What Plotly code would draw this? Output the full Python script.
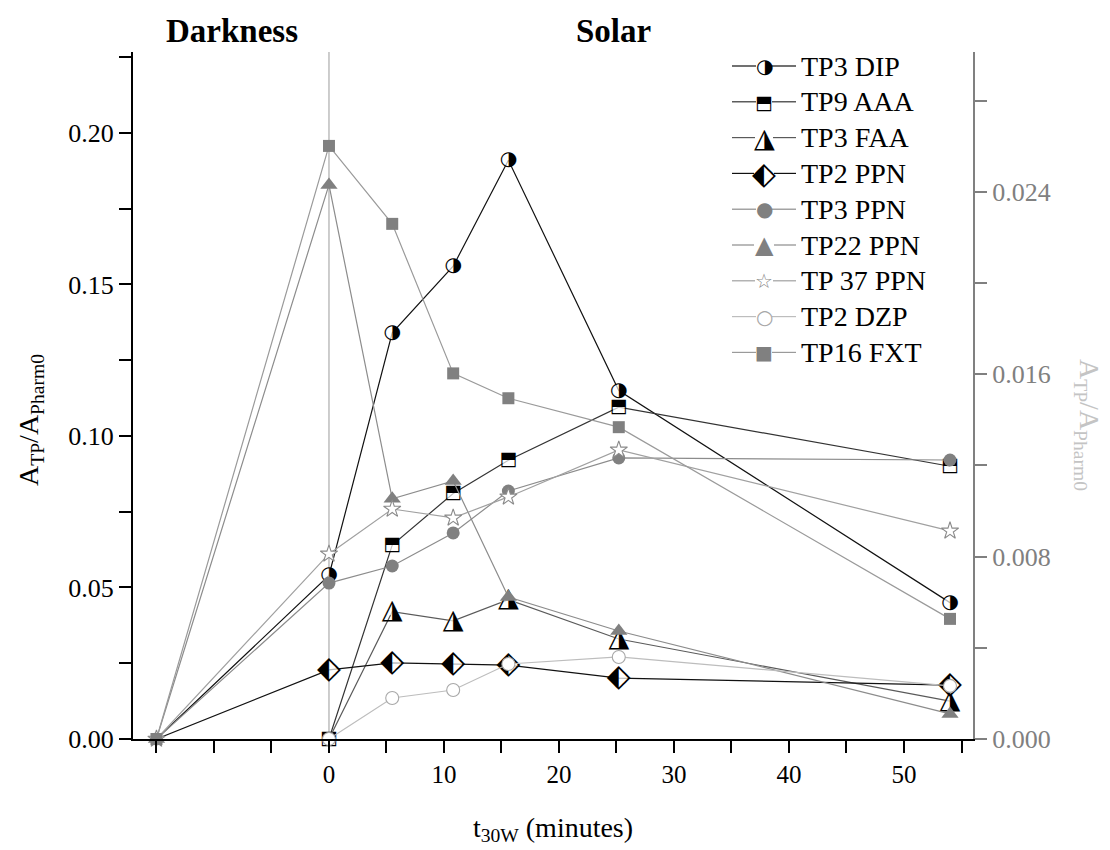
import plotly.graph_objects as go

SERIF = "Liberation Serif"
GLYPH_FONT = "DejaVu Sans"

# Sampling times in minutes (-15 is the darkness reference sample)
t_full = [-15, 0, 5.5, 10.8, 15.6, 25.2, 54]
t_solar = [0, 5.5, 10.8, 15.6, 25.2, 54]

# Left axis: A_TP / A_Pharm0
tp3_dip = [0, 0.054, 0.134, 0.156, 0.191, 0.115, 0.045]
tp9_aaa = [0, 0.064, 0.081, 0.092, 0.1095, 0.090]
tp3_faa = [0, 0.042, 0.039, 0.046, 0.033, 0.0125]
tp2_ppn = [0, 0.0228, 0.0251, 0.0248, 0.0244, 0.0201, 0.0178]

# Right axis: A_TP / A_Pharm0
tp3_ppn = [0, 0.00684, 0.00759, 0.00904, 0.01088, 0.01233, 0.01224]
tp22_ppn = [0, 0.02431, 0.01054, 0.01132, 0.00623, 0.00474, 0.0011]
tp37_ppn = [0, 0.00812, 0.01009, 0.0097, 0.01062, 0.01268, 0.00913]
tp2_dzp = [0, 0.0018, 0.00215, 0.00329, 0.0036, 0.00233]
tp16_fxt = [0, 0.02602, 0.0226, 0.01604, 0.01495, 0.01368, 0.00527]

x_tickvals = [-15, -10, -5, 0, 5, 10, 15, 20, 25, 30, 35, 40, 45, 50, 55]
x_ticktext = ["", "", "", "0", "", "10", "", "20", "", "30", "", "40", "", "50", ""]
y_left_ticks = [0, 0.05, 0.10, 0.15, 0.20]
y_right_ticks = [0, 0.008, 0.016, 0.024]

# name, x, y, axis, line colour, marker spec
# half-filled markers: white underlay marker + half-black glyph drawn on top;
# "skip_first" leaves the first (baseline) sample as a plain line vertex
series = [
    ("TP3 DIP", t_full, tp3_dip, "y", "#111111",
     dict(kind="half", glyph="\u25D1", symbol="circle", size=13, gsize=20, half=7,
          skip_first=True)),
    ("TP9 AAA", t_solar, tp9_aaa, "y", "#333333",
     dict(kind="half", glyph="\u2B12", symbol="square", size=12, gsize=19, half=7,
          skip_first=False)),
    ("TP3 FAA", t_solar, tp3_faa, "y", "#5a5a5a",
     dict(kind="half", glyph="\u25EE", symbol="triangle-up", size=14, gsize=27, half=8,
          skip_first=True)),
    ("TP2 PPN", t_full, tp2_ppn, "y", "#111111",
     dict(kind="half", glyph="\u2B16", symbol="diamond", size=15, gsize=31, half=9,
          skip_first=True)),
    ("TP3 PPN", t_full, tp3_ppn, "y2", "#8c8c8c",
     dict(kind="plain", symbol="circle", size=13, color="#808080", lc="#808080", lw=0,
          glyph="\u25CF", gcolor="#808080", gsize=20, half=7)),
    ("TP22 PPN", t_full, tp22_ppn, "y2", "#8c8c8c",
     dict(kind="plain", symbol="triangle-up", size=15, color="#808080", lc="#808080", lw=0,
          glyph="\u25B2", gcolor="#808080", gsize=24, half=9)),
    ("TP 37 PPN", t_full, tp37_ppn, "y2", "#a0a0a0",
     dict(kind="plain", symbol="star", size=13, color="white", lc="#8a8a8a", lw=1.1,
          glyph="\u2606", gcolor="#8a8a8a", gsize=20, half=8)),
    ("TP2 DZP", t_solar, tp2_dzp, "y2", "#bdbdbd",
     dict(kind="plain", symbol="circle", size=13, color="white", lc="#a8a8a8", lw=1.1,
          glyph="\u25CB", gcolor="#a8a8a8", gsize=20, half=7)),
    ("TP16 FXT", t_full, tp16_fxt, "y2", "#9a9a9a",
     dict(kind="plain", symbol="square", size=12, color="#808080", lc="#808080", lw=0,
          glyph="\u25A0", gcolor="#808080", gsize=19, half=7)),
]

fig = go.Figure()

for name, xs, ys, axis, lcol, mk in series:
    if mk["kind"] == "half":
        n = len(xs)
        texts = [mk["glyph"]] * n
        sizes = [mk["size"]] * n
        if mk["skip_first"]:
            texts[0] = ""
            sizes[0] = 0
        fig.add_trace(go.Scatter(
            x=xs, y=ys, yaxis=axis, name=name, showlegend=False,
            mode="lines+markers+text",
            line=dict(color=lcol, width=1.2),
            marker=dict(symbol=mk["symbol"], size=sizes, color="white",
                        line=dict(width=0)),
            text=texts, textposition="middle center",
            textfont=dict(family=GLYPH_FONT, size=mk["gsize"], color="black"),
            cliponaxis=False,
        ))
    else:
        fig.add_trace(go.Scatter(
            x=xs, y=ys, yaxis=axis, name=name, showlegend=False,
            mode="lines+markers",
            line=dict(color=lcol, width=1.2),
            marker=dict(symbol=mk["symbol"], size=mk["size"], color=mk["color"],
                        line=dict(width=mk["lw"], color=mk["lc"])),
            cliponaxis=False,
        ))

# plot box in pixels
L, R, T, B = 133, 973, 52, 739


def px_x(p):
    return (p - L) / (R - L)


def px_y(p):
    return (B - p) / (B - T)


def note(text, x, y, size, color="black", angle=0, family=SERIF, xanchor="center"):
    return dict(text=text, xref="paper", yref="paper", x=x, y=y, showarrow=False,
                xanchor=xanchor, yanchor="middle", textangle=angle,
                font=dict(family=family, size=size, color=color))


shapes = [
    # irradiation start marker at t = 0
    dict(type="line", xref="x", yref="paper", x0=0, x1=0, y0=0, y1=1,
         line=dict(color="#bdbdbd", width=1.5), layer="below"),
]
annotations = [
    note("<b>Darkness</b>", px_x(232), px_y(31), 33),
    note("<b>Solar</b>", px_x(613), px_y(31), 33),
    note("A<sub>TP</sub>/A<sub>Pharm0</sub>", px_x(30), px_y(420), 28, angle=-90),
    note("A<sub>TP</sub>/A<sub>Pharm0</sub>", px_x(1088), px_y(425), 28,
         color="#c4c4c4", angle=90),
]

# legend rows
row0, dy = 66, 35.8
cx = 764
for i, (name, xs, ys, axis, lcol, mk) in enumerate(series):
    yp = px_y(row0 + dy * i)
    gap = mk["half"] + 1
    shapes.append(dict(type="line", xref="paper", yref="paper",
                       x0=px_x(732), x1=px_x(cx - gap), y0=yp, y1=yp,
                       line=dict(color=lcol, width=1.2)))
    shapes.append(dict(type="line", xref="paper", yref="paper",
                       x0=px_x(cx + gap), x1=px_x(796), y0=yp, y1=yp,
                       line=dict(color=lcol, width=1.2)))
    gcol = "black" if mk["kind"] == "half" else mk["gcolor"]
    annotations.append(note(mk["glyph"], px_x(cx), yp, mk["gsize"], color=gcol,
                            family=GLYPH_FONT))
    annotations.append(note(name, px_x(799), yp, 28, xanchor="left"))

fig.update_layout(
    width=1110, height=850,
    margin=dict(l=L, r=1110 - R, t=T, b=850 - B),
    paper_bgcolor="white", plot_bgcolor="white",
    font=dict(family=SERIF, color="black"),
    shapes=shapes, annotations=annotations,
    xaxis=dict(
        range=[-17.04, 56], tickmode="array", tickvals=x_tickvals, ticktext=x_ticktext,
        ticks="outside", ticklen=12, tickwidth=1.5, tickcolor="black",
        showline=True, linecolor="black", linewidth=2, showgrid=False, zeroline=False,
        tickfont=dict(family=SERIF, size=25, color="black"),
        title=dict(text="t<sub>30W</sub> (minutes)", font=dict(family=SERIF, size=28),
                   standoff=30),
    ),
    yaxis=dict(
        range=[0, 0.2267], tickmode="array", tickvals=y_left_ticks, tickformat=".2f",
        ticks="outside", ticklen=12, tickwidth=1.5, tickcolor="black",
        minor=dict(dtick=0.025, ticks="outside", ticklen=12, tickwidth=1.5, tickcolor="black"),
        showline=True, linecolor="black", linewidth=2, showgrid=False, zeroline=False,
        tickfont=dict(family=SERIF, size=26, color="black"),
    ),
    yaxis2=dict(
        overlaying="y", side="right", anchor="x",
        range=[0, 0.03014], tickmode="array", tickvals=y_right_ticks, tickformat=".3f",
        ticks="outside", ticklen=12, tickwidth=1.5, tickcolor="#808080",
        minor=dict(dtick=0.004, ticks="outside", ticklen=12, tickwidth=1.5, tickcolor="#808080"),
        showline=True, linecolor="#808080", linewidth=2, showgrid=False, zeroline=False,
        tickfont=dict(family=SERIF, size=26, color="#808080"),
    ),
)

fig.write_html("out.html")
